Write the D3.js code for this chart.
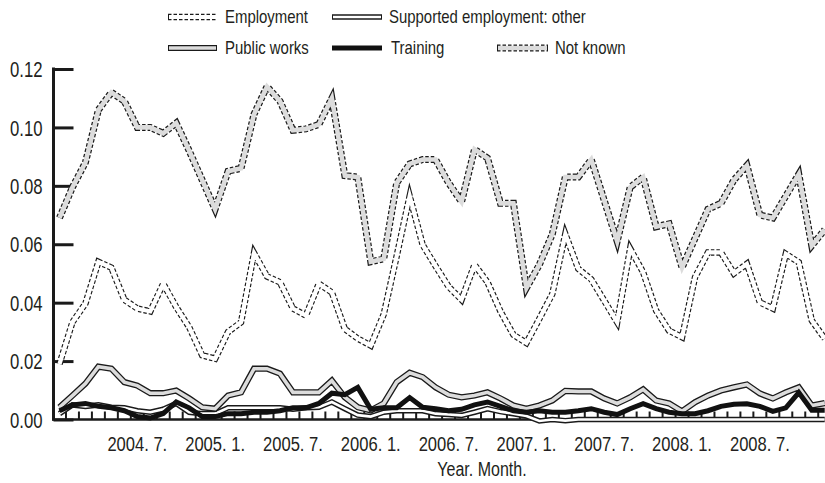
<!DOCTYPE html>
<html><head><meta charset="utf-8">
<script src="https://cdn.jsdelivr.net/npm/d3@7"></script>
<style>
body{margin:0;background:#fff}
svg{display:block}
text{font-family:"Liberation Sans",Arial,sans-serif;fill:#231f20}
</style>
</head><body>
<svg id="c" width="825" height="483"></svg>
<script>
const categories = [
"2004. 1.","2004. 2.","2004. 3.","2004. 4.","2004. 5.","2004. 6.","2004. 7.","2004. 8.","2004. 9.","2004. 10.","2004. 11.","2004. 12.",
"2005. 1.","2005. 2.","2005. 3.","2005. 4.","2005. 5.","2005. 6.","2005. 7.","2005. 8.","2005. 9.","2005. 10.","2005. 11.","2005. 12.",
"2006. 1.","2006. 2.","2006. 3.","2006. 4.","2006. 5.","2006. 6.","2006. 7.","2006. 8.","2006. 9.","2006. 10.","2006. 11.","2006. 12.",
"2007. 1.","2007. 2.","2007. 3.","2007. 4.","2007. 5.","2007. 6.","2007. 7.","2007. 8.","2007. 9.","2007. 10.","2007. 11.","2007. 12.",
"2008. 1.","2008. 2.","2008. 3.","2008. 4.","2008. 5.","2008. 6.","2008. 7.","2008. 8.","2008. 9.","2008. 10.","2008. 11.","2008. 12."];
const xTickLabels = ["2004. 7.","2005. 1.","2005. 7.","2006. 1.","2006. 7.","2007. 1.","2007. 7.","2008. 1.","2008. 7."];
const yTicks = [0, 0.02, 0.04, 0.06, 0.08, 0.10, 0.12];
const seriesNames = ["Employment","Supported employment: other","Public works","Training","Not known"];

const employment = [0.019,0.0333,0.0397,0.054,0.052,0.041,0.038,0.037,0.0465,0.0385,0.0316,0.022,
0.0208,0.030,0.0333,0.057,0.049,0.047,0.038,0.0356,0.0465,0.0435,0.031,0.0277,
0.0253,0.036,0.056,0.0765,0.0598,0.0525,0.0455,0.041,0.053,0.047,0.037,0.029,
0.0262,0.0345,0.043,0.0635,0.0516,0.048,0.0407,0.0333,0.0585,0.0504,0.0373,0.0304,
0.0282,0.0487,0.0572,0.0572,0.050,0.0533,0.0401,0.038,0.0567,0.0538,0.0339,0.0277];
const supportedOther = [0.002,0.005,0.0045,0.005,0.0042,0.004,0.003,0.0025,0.0035,0.0055,0.0025,0.002,
0.002,0.004,0.004,0.004,0.004,0.004,0.0035,0.004,0.0042,0.006,0.0037,0.0015,
0.001,0.0025,0.003,0.003,0.003,0.002,0.0017,0.0014,0.0025,0.0037,0.0027,0.002,
0.0012,-0.0005,0,-0.0004,0,0,0,0,0,0,0,0,
0,0,0,0,0,0,0,0,0,0,0,0];
const publicWorks = [0.0042,0.0082,0.0123,0.0181,0.0174,0.0128,0.0116,0.009,0.009,0.0099,0.0072,0.0042,
0.0037,0.0082,0.0093,0.0174,0.0174,0.0157,0.0093,0.0093,0.0093,0.0133,0.0076,0.0042,
0.0031,0.0055,0.0128,0.016,0.0145,0.011,0.0085,0.0076,0.0082,0.0093,0.0072,0.0048,
0.0037,0.0048,0.0065,0.0098,0.0096,0.0096,0.0072,0.0055,0.0076,0.0103,0.0065,0.0055,
0.0028,0.0059,0.0082,0.0099,0.011,0.012,0.0089,0.0072,0.0093,0.011,0.0048,0.0056];
const training = [0.003,0.005,0.0055,0.0045,0.004,0.003,0.001,0.0005,0.002,0.006,0.004,0.001,
0.001,0.002,0.002,0.0025,0.0025,0.003,0.004,0.004,0.0055,0.009,0.0085,0.011,
0.0035,0.004,0.004,0.0075,0.0042,0.0037,0.003,0.0035,0.005,0.006,0.0045,0.003,
0.0025,0.003,0.0025,0.0025,0.003,0.0037,0.0025,0.0017,0.0037,0.0054,0.0037,0.0025,
0.002,0.002,0.003,0.0045,0.0052,0.0054,0.0045,0.0028,0.004,0.0092,0.0032,0.0032];
const notKnown = [0.069,0.0795,0.088,0.106,0.112,0.109,0.100,0.100,0.098,0.1015,0.092,0.082,
0.072,0.085,0.086,0.1045,0.114,0.109,0.099,0.0995,0.101,0.110,0.0835,0.083,
0.054,0.055,0.081,0.0875,0.089,0.089,0.081,0.0745,0.0925,0.0895,0.074,0.074,
0.045,0.053,0.0635,0.083,0.083,0.089,0.075,0.061,0.0795,0.083,0.066,0.067,
0.052,0.062,0.072,0.074,0.082,0.087,0.070,0.069,0.0765,0.084,0.0595,0.065];

const styles = [
  {outer:"#1a1a1a", ow:6.5, dash:"3.5,2", inner:"#ffffff", iw:4.2},
  {outer:"#1a1a1a", ow:5.6, dash:null, inner:"#ffffff", iw:2.6},
  {outer:"#1a1a1a", ow:6.2, dash:null, inner:"#dcdcdc", iw:3.6},
  {outer:"#111111", ow:5, dash:null, inner:null, iw:0},
  {outer:"#1a1a1a", ow:7, dash:"3.5,2", inner:"#dcdcdc", iw:4.6}
];
const allSeries = [employment, supportedOther, publicWorks, training, notKnown];

const svg = d3.select("#c");
const x = d3.scaleBand().domain(categories).range([53, 53 + 12.97 * categories.length]).padding(0);
const cx = c => x(c) + x.bandwidth() / 2;
const y = d3.scaleLinear().domain([0, 0.12]).range([419.5, 69]);

// y axis
const yAxis = d3.axisLeft(y).tickValues(yTicks).tickFormat(d3.format(".2f")).tickSizeInner(-20).tickSizeOuter(0).tickPadding(0);
const gy = svg.append("g").attr("transform", "translate(53.5,0)").call(yAxis);
gy.select(".domain").attr("stroke", "#1a1a1a").attr("stroke-width", 3).attr("d", `M0,${y(0.12)-1.5}V${y(0)+1}`);
gy.selectAll(".tick line").attr("stroke", "#1a1a1a").attr("stroke-width", 3);
gy.selectAll(".tick text").attr("x", 0).attr("dy", "0.35em").attr("text-anchor", "end")
  .attr("transform", "translate(-11,0) scale(0.76,1)")
  .style("font-size", "22px").attr("fill", "#231f20");

// x axis: ticks at band boundaries
const gx = svg.append("g").attr("transform", `translate(0,${y(0)})`);
gx.append("line").attr("x1", 52).attr("x2", 840).attr("y1", 0).attr("y2", 0).attr("stroke", "#1a1a1a").attr("stroke-width", 2.5);
gx.selectAll("line.mt").data(categories.slice(1)).join("line").attr("class", "mt")
  .attr("x1", d => x(d)).attr("x2", d => x(d)).attr("y1", 0).attr("y2", -8)
  .attr("stroke", "#1a1a1a").attr("stroke-width", 2);
const xAxis = d3.axisBottom(x).tickValues(xTickLabels).tickSize(0).tickPadding(0);
const gxl = svg.append("g").attr("transform", `translate(0,${y(0)})`).call(xAxis);
gxl.select(".domain").remove();
gxl.selectAll(".tick text").attr("y", 0).attr("dy", 0).attr("transform", "translate(0,31.5) scale(0.85,1)")
  .style("font-size", "19.5px").attr("fill", "#231f20");

svg.append("text").attr("transform", "translate(482,476) scale(0.8,1)").attr("text-anchor", "middle")
  .style("font-size", "20px").text("Year. Month.");

// series
const line = d3.line().x((d, i) => cx(categories[i])).y(d => y(d));
allSeries.forEach((s, k) => {
  const st = styles[k];
  const g = svg.append("g");
  const o = g.append("path").attr("d", line(s)).attr("fill", "none").attr("stroke", st.outer)
    .attr("stroke-width", st.ow).attr("stroke-linejoin", "miter").attr("stroke-miterlimit", 5);
  if (st.dash) o.attr("stroke-dasharray", st.dash);
  if (st.inner) g.append("path").attr("d", line(s)).attr("fill", "none").attr("stroke", st.inner)
    .attr("stroke-width", st.iw).attr("stroke-linejoin", "miter").attr("stroke-miterlimit", 5);
});

// legend
const legendPos = [[168, 217, 225, 17], [332, 382, 389, 17], [168, 217, 225, 48], [332, 382, 391, 48], [497, 548, 555, 48]];
seriesNames.forEach((name, k) => {
  const [a, b, t, yy] = legendPos[k];
  const st = styles[k];
  const lg = svg.append("g");
  const o = lg.append("line").attr("x1", a).attr("x2", b).attr("y1", yy).attr("y2", yy)
    .attr("stroke", st.outer).attr("stroke-width", st.ow);
  if (st.dash) o.attr("stroke-dasharray", st.dash);
  if (st.inner) lg.append("line").attr("x1", a + 1).attr("x2", b - 1).attr("y1", yy).attr("y2", yy)
    .attr("stroke", st.inner).attr("stroke-width", st.iw);
  lg.append("text").attr("transform", `translate(${t},${yy}) scale(0.83,1)`).attr("dy", "0.35em")
    .style("font-size", "18px").text(name);
});
</script>
</body></html>
